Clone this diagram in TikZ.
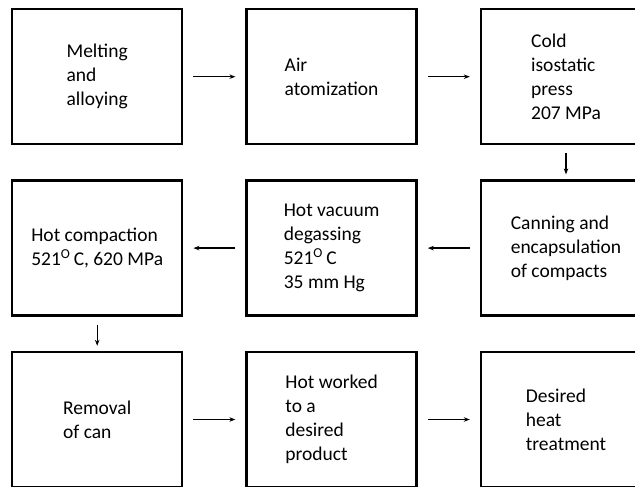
\documentclass[tikz,border=0pt]{standalone}
\usepackage{fontspec}
\setmainfont{Carlito}
\usetikzlibrary{arrows.meta,positioning}

\begin{document}
\begin{tikzpicture}[>={Stealth[length=6pt,width=4.5pt]},node distance=34pt and 62pt,
  stagebox/.style={draw,line width=2.4pt,minimum width=170pt,minimum height=135pt,align=left,font=\fontsize{19.5}{24}\selectfont},
  flow/.style={->,line width=1.3pt,shorten <=10pt,shorten >=10pt},
  drop/.style={->,line width=1.3pt,shorten <=8pt,shorten >=5pt}]
  \useasboundingbox (0,0) rectangle (635pt,-487pt);

  \node (melt) [stagebox,anchor=north west] at (11pt,-8pt) {Melting\\and\\alloying};
  \node (atom) [stagebox,right=of melt] {Air\\atomization};
  \node (press) [stagebox,right=of atom] {Cold\\isostatic\\press\\207 MPa};

  \node (canning) [stagebox,below=of press] {Canning and\\encapsulation\\of compacts};
  \node (degas) [stagebox,left=of canning] {Hot vacuum\\degassing\\521\textsuperscript{O}\,C\\35 mm Hg};
  \node (compact) [stagebox,left=of degas] {Hot compaction\\521\textsuperscript{O}\,C, 620 MPa};

  \node (removal) [stagebox,below=of compact] {Removal\\of can};
  \node (worked) [stagebox,right=of removal] {Hot worked\\to a\\desired\\product};
  \node (heat) [stagebox,right=of worked] {Desired\\heat\\treatment};

  \draw[flow] (melt) -- (atom);
  \draw[flow] (atom) -- (press);
  \draw[drop] (press) -- (canning);
  \draw[flow] (canning) -- (degas);
  \draw[flow] (degas) -- (compact);
  \draw[drop] (compact) -- (removal);
  \draw[flow] (removal) -- (worked);
  \draw[flow] (worked) -- (heat);
\end{tikzpicture}
\end{document}
